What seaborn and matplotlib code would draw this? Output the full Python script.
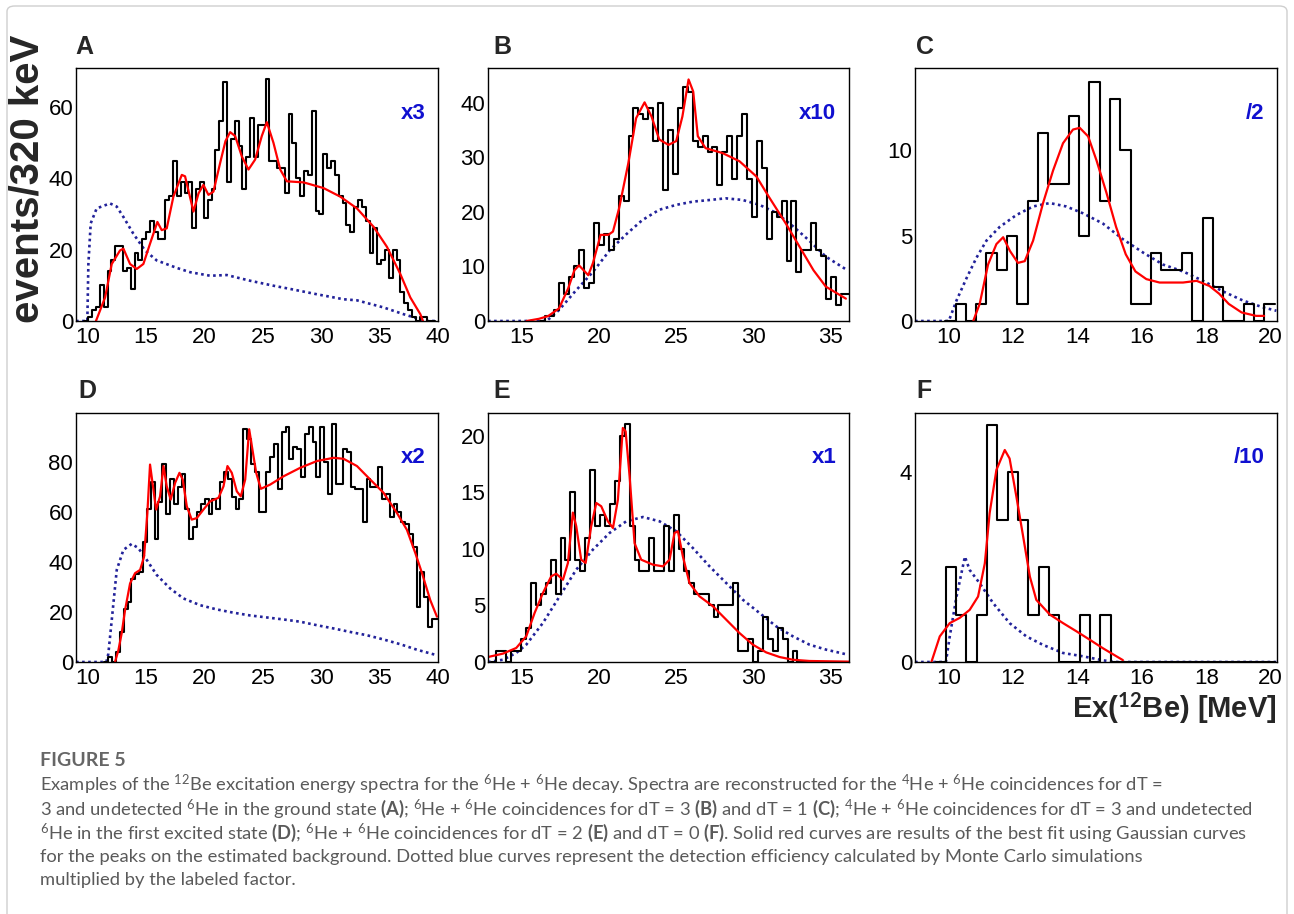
import numpy as np
import matplotlib
matplotlib.use("Agg")
import matplotlib.pyplot as plt
from matplotlib.ticker import MultipleLocator
from matplotlib.patches import FancyBboxPatch
import seaborn as sns

# ---- data (events per bin, fit curve, efficiency curve) ----
# A : 4He + 6He, dT = 3, 6He ground state
a_start, a_width = 9.72, 0.33
a_counts = [0, 1, 3, 4, 10, 4, 14, 17, 21, 21, 14, 15, 9, 19, 17, 23, 25, 28, 25, 23, 23,
            34, 35, 45, 35, 39, 36, 39, 26, 37, 39, 29, 34, 37, 48, 56, 67, 39, 51, 56, 49,
            37, 46, 57, 46, 55, 55, 68, 45, 45, 43, 43, 36, 58, 50, 40, 35, 42, 41, 59, 31,
            30, 47, 43, 45, 41, 35, 33, 27, 25, 32, 34, 32, 28, 19, 26, 16, 17, 20, 12, 20,
            17, 8, 5, 3, 1, 0, 1, 1, 0, 0]
a_fit_x = [10.71, 11.49, 12.06, 12.77, 13.06, 13.63, 14.2, 14.77, 15.34, 15.97, 16.34, 16.77,
           17.34, 18.06, 18.34, 19.06, 19.49, 19.91, 20.34, 20.77, 21.34, 21.8, 22.2, 22.63,
           23.2, 23.77, 24.34, 24.91, 25.34, 25.91, 26.49, 27.06, 28.49, 30.2, 31.63, 33.06,
           34.49, 35.63, 36.77, 37.63, 38.49, 38.71]
a_fit_y = [0, 6.6, 16, 19.8, 20.3, 16, 14.6, 16, 21.7, 27.8, 25.5, 26, 34.9, 41, 40.6, 30.7,
           35.8, 38.2, 35.4, 36.3, 44.3, 50.5, 53, 51.9, 46.2, 42.5, 45.3, 51.9, 55.8, 50,
           42.5, 39.2, 38.9, 37.3, 34.9, 31.6, 26.4, 20.8, 13.2, 6.6, 1.9, 0]
a_eff_x = [9.0, 9.97, 10.06, 10.26, 10.77, 11.91, 12.49, 13.06, 13.91, 14.91, 15.91, 17.63,
           18.77, 20.49, 21.91, 23.91, 25.91, 27.34, 29.63, 31.91, 33.06, 35.34, 37.06,
           38.2, 39.06, 40.0]
a_eff_y = [0, 0, 16, 27.4, 31.6, 33.0, 32.1, 29.2, 24.5, 19.8, 17, 14.9, 13.7, 12.7, 12.9,
           11.3, 9.9, 9.0, 7.5, 6.1, 5.8, 3.8, 1.9, 0.75, 0, 0]

# B : 6He + 6He, dT = 3
b_start, b_width = 16.15, 0.32
b_counts = [0, 1, 1, 2, 7, 5, 8, 10, 13, 6, 7, 18, 14, 16, 13, 15, 23, 22, 34, 39, 38,
            37, 39, 33, 40, 24, 35, 27, 39, 43, 42, 33, 32, 34, 31, 32, 25, 31, 34, 26, 34,
            38, 26, 19, 33, 28, 15, 20, 19, 22, 11, 22, 9, 13, 13, 18, 13, 12, 4, 8, 3, 5, 5]
b_fit_x = [15.3, 16.1, 16.7, 17.4, 18.0, 18.4, 18.7, 19.3, 19.6, 20.1, 20.6, 20.9, 21.3,
           21.9, 22.4, 22.95, 23.4, 23.9, 24.5, 25.0, 25.4, 25.8, 26.1, 26.4, 26.9, 28.0,
           29.1, 30.2, 31.0, 32.1, 33.0, 33.9, 34.7, 36.0]
b_fit_y = [0, 0.4, 0.9, 2.3, 6, 9.3, 10.2, 8.4, 10.6, 15.8, 15.8, 16.4, 20.7, 29, 37.2,
           40.1, 37.5, 33.3, 32.3, 33, 37.5, 44.3, 42.1, 33.9, 31.7, 30.8, 29.3, 26.5, 22.8,
           17.9, 13.6, 9.3, 6.3, 4.1]
b_eff_x = [12.8, 16.6, 17.4, 18.5, 19.6, 20.7, 21.8, 22.8, 23.9, 25.0, 26.1, 27.2, 28.2,
           29.3, 30.4, 31.5, 32.6, 33.6, 34.7, 36.1]
b_eff_y = [0, 0, 2, 5.6, 9, 13, 16, 18.5, 20.4, 21.3, 21.9, 22.2, 22.5, 22.2, 21.3, 19.8,
           17.3, 14.8, 11.8, 9.3]

# C : 6He + 6He, dT = 1
c_start, c_width = 9.89, 0.32
c_counts = [0, 1, 0, 1, 4, 3, 5, 1, 7, 11, 8, 8, 12, 5, 14, 7, 13, 10, 1, 1, 4,
            3, 3, 4, 0, 6, 2, 0, 0, 1, 0, 1]
c_fit_x = [10.76, 10.96, 11.22, 11.48, 11.69, 11.9, 12.15, 12.36, 12.62, 12.93, 13.24,
           13.55, 13.86, 14.07, 14.33, 14.59, 14.9, 15.2, 15.5, 15.8, 16.14, 16.55, 17.28,
           17.7, 18.1, 18.4, 18.7, 19.1, 19.55, 19.8]
c_fit_y = [0, 1, 3.3, 4.5, 4.9, 4.1, 3.4, 3.5, 4.7, 6.9, 8.8, 10.4, 11.2, 11.3, 10.8, 9.4,
           7.5, 5.5, 3.9, 2.9, 2.45, 2.25, 2.25, 2.35, 2.05, 1.6, 1.0, 0.5, 0.3, 0.3]
c_eff_x = [8.95, 10.0, 10.24, 10.55, 10.86, 11.17, 11.58, 12.1, 12.62, 13.14, 13.65, 14.17,
           14.79, 15.4, 16.04, 16.66, 17.28, 17.9, 18.5, 19.14, 19.76, 20.18]
c_eff_y = [0, 0, 1.2, 2.5, 3.7, 4.7, 5.5, 6.2, 6.7, 6.9, 6.7, 6.3, 5.7, 4.8, 4.0, 3.3, 2.9,
           2.35, 1.75, 1.2, 0.8, 0.6]

# D : 4He + 6He, dT = 3, 6He first excited state
d_start, d_width = 11.44, 0.33
d_counts = [0, 2, 0, 4, 12, 21, 24, 33, 35, 36, 48, 61, 72, 49, 64, 79, 59, 73, 63, 70, 75,
            61, 49, 54, 60, 63, 65, 59, 65, 61, 72, 76, 73, 66, 61, 65, 93, 89, 79, 76, 60,
            60, 76, 82, 87, 69, 92, 94, 81, 86, 85, 74, 91, 94, 88, 74, 94, 80, 67, 95, 71,
            71, 85, 84, 70, 69, 69, 56, 73, 70, 70, 78, 65, 67, 58, 63, 60, 56, 55, 51, 46,
            22, 36, 26, 14, 17, 17]
d_fit_x = [12.34, 12.63, 12.91, 13.2, 13.63, 14.06, 14.49, 14.83, 15.11, 15.34, 15.63,
           15.86, 16.2, 16.49, 16.77, 17.11, 17.49, 17.86, 18.14, 18.49, 18.91, 19.34,
           19.91, 20.49, 21.2, 21.63, 21.97, 22.34, 22.77, 23.11, 23.49, 23.83, 24.06,
           24.43, 24.83, 25.63, 26.77, 28.2, 29.63, 31.06, 31.91, 33.06, 34.2, 35.34,
           36.49, 37.34, 38.06, 38.63, 39.34, 39.91]
d_fit_y = [0, 4.7, 11.4, 20.7, 31.4, 35.5, 36.8, 42.1, 59.5, 78.9, 68.9, 60.9, 66.2, 78.3,
           70.2, 64.9, 71.6, 75.6, 72.9, 62.2, 56.9, 57.5, 60.9, 64.2, 65.6, 70.2, 78.3,
           75.6, 68.2, 66.2, 72.9, 93, 86.3, 75.6, 69.2, 70.9, 74.2, 77.6, 80.3, 81.6,
           81.2, 78.3, 72.9, 67.6, 59.5, 52.8, 43.5, 35.5, 24.7, 18.1]
d_eff_x = [9.0, 11.6, 11.77, 12.06, 12.49, 13.06, 13.77, 14.34, 15.06, 15.91, 17.06, 18.2,
           19.63, 21.06, 22.49, 23.91, 25.34, 26.77, 28.2, 29.63, 31.06, 32.49, 33.91,
           35.34, 36.77, 38.2, 39.91]
d_eff_y = [0, 0, 3.3, 16.7, 36.8, 44.8, 47.2, 45.5, 40.8, 34.8, 29.4, 25.4, 22.7, 21, 19.7,
           18.6, 17.8, 17, 16.1, 14.7, 13.4, 12, 10.7, 9, 7.1, 4.9, 2.7]

# E : 6He + 6He, dT = 2
e_start, e_width = 13.02, 0.32
e_counts = [0, 1, 1, 0, 1, 1, 2, 3, 7, 5, 6, 7, 9, 6, 11, 9, 15, 9, 8, 11, 17,
            12, 13, 12, 14, 16, 20, 21, 12, 9, 8, 8, 11, 8, 8, 12, 8, 13, 10, 8, 7,
            6, 6, 6, 5, 4, 5, 5, 5, 7, 1, 1, 2, 0, 1, 4, 2, 1, 3, 2, 0, 1, 0,
            0, 0, 0, 0, 0, 0, 0, 0, 0]
e_fit_x = [12.8, 13.77, 14.63, 15.28, 15.82, 16.36, 16.9, 17.22, 17.66, 17.98, 18.3,
           18.52, 18.84, 19.13, 19.49, 19.82, 20.14, 20.57, 20.9, 21.22, 21.54, 21.72,
           21.98, 22.3, 22.73, 23.49, 24.14, 24.57, 24.89, 25.11, 25.43, 25.86, 26.51,
           27.38, 28.24, 29.1, 29.97, 30.83, 31.7, 32.56, 33.64, 36.19]
e_fit_y = [0.44, 0.74, 1.24, 2.27, 4.33, 6.1, 7.57, 7.8, 7.27, 8.75, 13.2, 12, 9.04, 8.75,
           12, 14.05, 13.76, 12.43, 11.84, 14.34, 20.68, 20.38, 16.4, 10.5, 9.04, 8.6, 8.45,
           9.04, 11.4, 11.55, 9.34, 6.98, 5.8, 4.92, 3.74, 2.56, 1.53, 0.85, 0.44, 0.2,
           0.09, 0.03]
e_eff_x = [12.8, 13.77, 14.63, 15.28, 16.36, 17.44, 18.52, 19.6, 20.68, 21.76, 22.84,
           23.92, 25.0, 26.08, 27.16, 28.24, 29.32, 30.4, 31.48, 32.56, 33.64, 34.72, 36.12]
e_eff_y = [0, 0.2, 0.8, 1.53, 3.45, 5.8, 8.16, 9.93, 11.4, 12.43, 12.81, 12.43, 11.55,
           10.07, 8.45, 6.98, 5.5, 4.33, 3.15, 2.27, 1.53, 1.09, 0.65]

# F : 6He + 6He, dT = 0
f_start, f_width = 9.59, 0.32
f_counts = [0, 2, 1, 0, 1, 5, 3, 4, 3, 1, 2, 1, 0, 0, 1, 0, 1,
            0, 0, 0, 0, 0, 0, 0, 0, 0, 0, 0, 0, 0, 0, 0, 0]
f_fit_x = [9.46, 9.72, 10.03, 10.34, 10.65, 10.91, 11.12, 11.27, 11.48, 11.74, 11.89, 12.1,
           12.31, 12.52, 12.72, 13.14, 13.55, 13.96, 14.38, 14.79, 15.21, 15.41]
f_fit_y = [0, 0.54, 0.82, 0.93, 1.1, 1.38, 2.08, 3.14, 4.05, 4.47, 4.29, 3.49, 2.65, 1.8,
           1.31, 1.0, 0.82, 0.65, 0.47, 0.29, 0.12, 0.04]
f_eff_x = [8.95, 9.91, 10.03, 10.24, 10.5, 10.65, 10.96, 11.38, 11.89, 12.41, 12.93, 13.55,
           14.17, 14.79, 15.2, 20.2]
f_eff_y = [0, 0, 0.54, 1.38, 2.22, 1.94, 1.66, 1.24, 0.82, 0.54, 0.36, 0.19, 0.12, 0.035,
           0, 0]

panel_letters = ["A", "B", "C", "D", "E", "F"]
eff_factors = ["x3", "x10", "/2", "x2", "x1", "/10"]

caption_head = "FIGURE 5"
caption_lines = [
    r"Examples of the $^{12}$Be excitation energy spectra for the $^{6}$He + $^{6}$He decay. Spectra are reconstructed for the $^{4}$He + $^{6}$He coincidences for dT =",
    r"3 and undetected $^{6}$He in the ground state $\mathbf{(A)}$; $^{6}$He + $^{6}$He coincidences for dT = 3 $\mathbf{(B)}$ and dT = 1 $\mathbf{(C)}$; $^{4}$He + $^{6}$He coincidences for dT = 3 and undetected",
    r"$^{6}$He in the first excited state $\mathbf{(D)}$; $^{6}$He + $^{6}$He coincidences for dT = 2 $\mathbf{(E)}$ and dT = 0 $\mathbf{(F)}$. Solid red curves are results of the best fit using Gaussian curves",
    "for the peaks on the estimated background. Dotted blue curves represent the detection efficiency calculated by Monte Carlo simulations",
    "multiplied by the labeled factor.",
]

# ---- style ----
sns.set_theme(style="white")
plt.rcParams["font.family"] = ["Liberation Sans", "DejaVu Sans"]
plt.rcParams["mathtext.fontset"] = "custom"
plt.rcParams["mathtext.rm"] = "Lato"
plt.rcParams["mathtext.bf"] = "Lato:bold"
plt.rcParams["mathtext.it"] = "Lato:italic"

BLUE = "#22229a"
W, H = 1294, 914

fig = plt.figure(figsize=(W / 100, H / 100), dpi=100)
fig.patch.set_facecolor("white")


def px_axes(left, top, right, bottom):
    return fig.add_axes([left / W, 1 - bottom / H, (right - left) / W, (bottom - top) / H])


def draw_panel(ax, start, width, counts, fit_x, fit_y, eff_x, eff_y,
               xlim, ylim, xmaj, xmin, ymaj, ymin, factor):
    edges = [start + width * i for i in range(len(counts) + 1)]
    centers = [e + width / 2 for e in edges[:-1]]
    sns.lineplot(x=eff_x, y=eff_y, ax=ax, color=BLUE, linewidth=1.9,
                 linestyle=(0, (1.0, 1.3)), sort=False, estimator=None)
    sns.histplot(x=centers, weights=counts, bins=edges, element="step", fill=False,
                 color="black", linewidth=1.5, ax=ax)
    sns.lineplot(x=fit_x, y=fit_y, ax=ax, color="red", linewidth=1.6,
                 sort=False, estimator=None)
    ax.set_xlim(*xlim)
    ax.set_ylim(*ylim)
    ax.set_xlabel("")
    ax.set_ylabel("")
    ax.xaxis.set_major_locator(MultipleLocator(xmaj))
    ax.xaxis.set_minor_locator(MultipleLocator(xmin))
    ax.yaxis.set_major_locator(MultipleLocator(ymaj))
    ax.yaxis.set_minor_locator(MultipleLocator(ymin))
    ax.tick_params(axis="both", which="both", direction="in", top=False, right=False,
                   colors="black", labelsize=16)
    ax.tick_params(axis="x", which="major", length=5, width=1, pad=4)
    ax.tick_params(axis="x", which="minor", length=2.5, width=1)
    ax.tick_params(axis="y", which="major", length=6.5, width=1, pad=2)
    ax.tick_params(axis="y", which="minor", length=3.5, width=1)
    for s in ax.spines.values():
        s.set_color("black")
        s.set_linewidth(1.0)
    ax.text(0.965, 0.82, factor, transform=ax.transAxes, ha="right", va="center",
            color="#1010d0", fontsize=16, fontweight="bold")


panels = [
    (px_axes(76, 68, 438, 321), a_start, a_width, a_counts, a_fit_x, a_fit_y, a_eff_x, a_eff_y,
     (9, 40), (0, 71), 5, 1, 20, 5),
    (px_axes(488, 68, 849, 321), b_start, b_width, b_counts, b_fit_x, b_fit_y, b_eff_x, b_eff_y,
     (12.8, 36.2), (0, 46.4), 5, 1, 10, 2),
    (px_axes(915, 68, 1277, 321), c_start, c_width, c_counts, c_fit_x, c_fit_y, c_eff_x, c_eff_y,
     (8.95, 20.2), (0, 14.8), 2, 0.4, 5, 1),
    (px_axes(76, 413, 438, 662), d_start, d_width, d_counts, d_fit_x, d_fit_y, d_eff_x, d_eff_y,
     (9, 40), (0, 99.5), 5, 1, 20, 5),
    (px_axes(488, 413, 849, 662), e_start, e_width, e_counts, e_fit_x, e_fit_y, e_eff_x, e_eff_y,
     (12.8, 36.2), (0, 22), 5, 1, 5, 1),
    (px_axes(915, 413, 1277, 662), f_start, f_width, f_counts, f_fit_x, f_fit_y, f_eff_x, f_eff_y,
     (8.95, 20.2), (0, 5.25), 2, 0.4, 2, 0.5),
]

letter_pos = [(75, 47), (493, 47), (916, 47), (78, 391), (493, 391), (916, 391)]
for (ax, *args), letter, factor, (lx, ly) in zip(panels, panel_letters, eff_factors, letter_pos):
    draw_panel(ax, *args, factor)
    fig.text(lx / W, 1 - ly / H, letter, fontsize=18, fontweight="bold",
             ha="left", va="center")

# axis titles
fig.text(28 / W, 1 - 179 / H, "events/320 keV", rotation=90, fontsize=29,
         fontweight="bold", ha="center", va="center")
fig.text(1277 / W, 1 - 708 / H, r"Ex($^{\mathbf{12}}$Be) [MeV]", fontsize=21,
         fontweight="bold", ha="right", va="center")

# caption
fig.text(40 / W, 1 - 760 / H, caption_head, fontsize=14, fontweight="bold",
         color="#666666", family="Lato", ha="left", va="center")
for i, line in enumerate(caption_lines):
    fig.text(40 / W, 1 - (791 + 23.6 * i) / H, line, fontsize=13.2, color="#5a5a5a",
             family="Lato", ha="left", va="baseline")

# light frame around the figure
frame = FancyBboxPatch((7 / W, -0.02), 1280 / W, 1.02 - 6 / H,
                       boxstyle="round,pad=0,rounding_size=0.006",
                       transform=fig.transFigure, fill=False, edgecolor="#cfcfcf",
                       linewidth=1.0, clip_on=False)
fig.patches.append(frame)

fig.savefig("out.png", dpi=100, facecolor="white")
